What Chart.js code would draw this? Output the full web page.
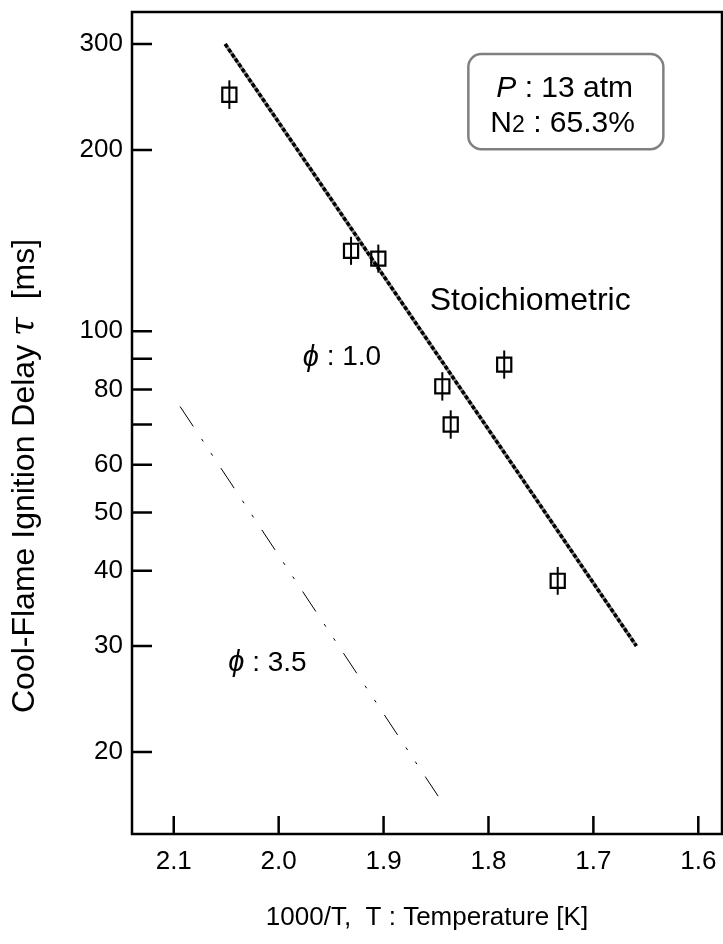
<!DOCTYPE html>
<html>
<head>
<meta charset="utf-8">
<script src="https://cdn.jsdelivr.net/npm/chart.js@4.4.1/dist/chart.umd.min.js"></script>
<style>
  html, body { margin: 0; padding: 0; background: #fff; }
  #wrap { width: 723px; height: 944px; }
</style>
</head>
<body>
<div id="wrap"><canvas id="delayChart" width="723" height="944"></canvas></div>
<script>
// tick values
const xTicks = [2.1, 2.0, 1.9, 1.8, 1.7, 1.6];
const yTicks = [20, 30, 40, 50, 60, 70, 80, 90, 100, 200, 300];
const yLabeled = [20, 30, 40, 50, 60, 80, 100, 200, 300];

// measured points (1000/T, delay ms) with error bar half-heights
const invT = [2.047, 1.931, 1.905, 1.844, 1.836, 1.785, 1.734];
const delay = [247, 136, 132, 81, 70, 88, 38.5];
const errHi = [14, 7.5, 7.3, 4.5, 3.9, 4.9, 2.1];
const errLo = [13, 7.1, 6.9, 4.3, 3.7, 4.6, 2.0];

// fitted lines
const fit10X = [2.051, 1.659];
const fit10Y = [300, 30];
const fit35X = [2.094, 1.848];
const fit35Y = [75, 16.9];

const FONT = '"Liberation Sans", Arial, Helvetica, sans-serif';

const toPts = (xs, ys) => xs.map((x, i) => ({ x: x, y: ys[i] }));

// frame, inward ticks, error bars, text labels
const decorPlugin = {
  id: 'decor',
  afterDatasetsDraw(chart) {
    const ctx = chart.ctx;
    const xs = chart.scales.x, ys = chart.scales.y;
    ctx.save();
    ctx.strokeStyle = '#000';
    ctx.lineWidth = 2;
    invT.forEach((v, i) => {
      const px = xs.getPixelForValue(v);
      ctx.beginPath();
      ctx.moveTo(px, ys.getPixelForValue(delay[i] + errHi[i]));
      ctx.lineTo(px, ys.getPixelForValue(delay[i] - errLo[i]));
      ctx.stroke();
    });
    ctx.restore();
  },
  afterDraw(chart) {
    const ctx = chart.ctx;
    const a = chart.chartArea;
    const xs = chart.scales.x, ys = chart.scales.y;
    ctx.save();
    ctx.strokeStyle = '#000';
    ctx.lineWidth = 2.5;
    ctx.strokeRect(a.left, a.top, a.right - a.left, a.bottom - a.top);
    ctx.beginPath();
    xTicks.forEach(v => {
      const px = xs.getPixelForValue(v);
      ctx.moveTo(px, a.bottom);
      ctx.lineTo(px, a.bottom - 18);
    });
    yTicks.forEach(v => {
      const py = ys.getPixelForValue(v);
      ctx.moveTo(a.left, py);
      ctx.lineTo(a.left + 20, py);
    });
    ctx.stroke();

    ctx.fillStyle = '#000';
    ctx.textAlign = 'left';

    // y axis title, read bottom to top
    ctx.save();
    ctx.translate(25, 713);
    ctx.rotate(-Math.PI / 2);
    ctx.textBaseline = 'middle';
    let ty = 0;
    ctx.font = '32px ' + FONT;
    ctx.fillText('Cool-Flame Ignition Delay ', ty, 0);
    ty += ctx.measureText('Cool-Flame Ignition Delay ').width;
    ctx.font = 'italic 34px "DejaVu Serif", serif';
    ctx.fillText('\u03C4', ty, 0);
    ty += ctx.measureText('\u03C4').width;
    ctx.font = '32px ' + FONT;
    ctx.fillText('  [ms]', ty, 0);
    ctx.restore();

    // text labels
    ctx.textBaseline = 'middle';
    ctx.font = '32px ' + FONT;
    ctx.fillText('Stoichiometric', xs.getPixelForValue(1.856), ys.getPixelForValue(112));

    const phiLabel = (txt, x, y) => {
      let px = xs.getPixelForValue(x);
      const py = ys.getPixelForValue(y);
      ctx.font = 'italic 29px ' + FONT;
      ctx.fillText('\u03D5', px, py);
      px += ctx.measureText('\u03D5').width;
      ctx.font = '28px ' + FONT;
      ctx.fillText(' : ' + txt, px, py);
    };
    phiLabel('1.0', 1.977, 90.4);
    phiLabel('3.5', 2.048, 28.1);

    // condition box
    const bx0 = xs.getPixelForValue(1.8192), bx1 = xs.getPixelForValue(1.6333);
    const by0 = ys.getPixelForValue(288.7), by1 = ys.getPixelForValue(200.6);
    ctx.strokeStyle = '#808080';
    ctx.lineWidth = 2.5;
    ctx.beginPath();
    ctx.roundRect(bx0, by0, bx1 - bx0, by1 - by0, 13);
    ctx.stroke();

    ctx.textBaseline = 'alphabetic';
    let tx = bx0 + 28;
    ctx.font = 'italic 30px ' + FONT;
    ctx.fillText('P', tx, by0 + 43);
    tx += ctx.measureText('P').width;
    ctx.font = '30px ' + FONT;
    ctx.fillText(' : 13 atm', tx, by0 + 43);

    tx = bx0 + 22;
    ctx.fillText('N', tx, by0 + 78);
    tx += ctx.measureText('N').width;
    ctx.font = '23px ' + FONT;
    ctx.fillText('2', tx, by0 + 78);
    tx += ctx.measureText('2').width;
    ctx.font = '30px ' + FONT;
    ctx.fillText(' : 65.3%', tx, by0 + 78);
    ctx.restore();
  }
};

new Chart(document.getElementById('delayChart'), {
  type: 'scatter',
  data: {
    datasets: [
      {
        label: 'measured',
        data: toPts(invT, delay),
        pointStyle: 'rect',
        pointRadius: 10,
        borderColor: '#000',
        borderWidth: 2.2,
        backgroundColor: 'rgba(0,0,0,0)'
      },
      {
        label: 'phi 1.0',
        data: toPts(fit10X, fit10Y),
        showLine: true,
        borderColor: '#000',
        borderWidth: 3.5,
        borderDash: [4, 2],
        pointRadius: 0
      },
      {
        label: 'phi 1.0 base',
        data: toPts(fit10X, fit10Y),
        showLine: true,
        borderColor: '#8a8a8a',
        borderWidth: 3.5,
        pointRadius: 0
      },
      {
        label: 'phi 3.5',
        data: toPts(fit35X, fit35Y),
        showLine: true,
        borderColor: '#000',
        borderWidth: 1,
        borderDash: [24, 15, 3, 14, 3, 15],
        pointRadius: 0
      }
    ]
  },
  options: {
    responsive: false,
    animation: false,
    layout: { autoPadding: false, padding: { top: 12, right: 1, left: 0, bottom: 0 } },
    plugins: { legend: { display: false }, tooltip: { enabled: false } },
    scales: {
      x: {
        type: 'linear',
        reverse: true,
        min: 1.5774,
        max: 2.1398,
        afterBuildTicks: s => { s.ticks = xTicks.map(v => ({ value: v })); },
        afterFit: s => { s.height = 110; s.paddingLeft = 0; s.paddingRight = 0; },
        grid: { display: false, drawTicks: false },
        border: { display: false },
        ticks: {
          autoSkip: false,
          maxRotation: 0,
          padding: 12,
          color: '#000',
          font: { family: FONT, size: 26 },
          callback: v => Number(v).toFixed(1)
        },
        title: {
          display: true,
          text: '1000/T,  T : Temperature [K]',
          color: '#000',
          font: { family: FONT, size: 26 },
          padding: { top: 0, bottom: 11 }
        }
      },
      y: {
        type: 'logarithmic',
        min: 14.62,
        max: 339,
        afterBuildTicks: s => { s.ticks = yTicks.map(v => ({ value: v })); },
        afterFit: s => { s.width = 132; s.paddingTop = 0; s.paddingBottom = 0; },
        grid: { display: false, drawTicks: false },
        border: { display: false },
        ticks: {
          autoSkip: false,
          padding: 9,
          color: '#000',
          font: { family: FONT, size: 26 },
          callback: v => yLabeled.includes(v) ? String(v) : ''
        }
      }
    }
  },
  plugins: [decorPlugin]
});
</script>
</body>
</html>
